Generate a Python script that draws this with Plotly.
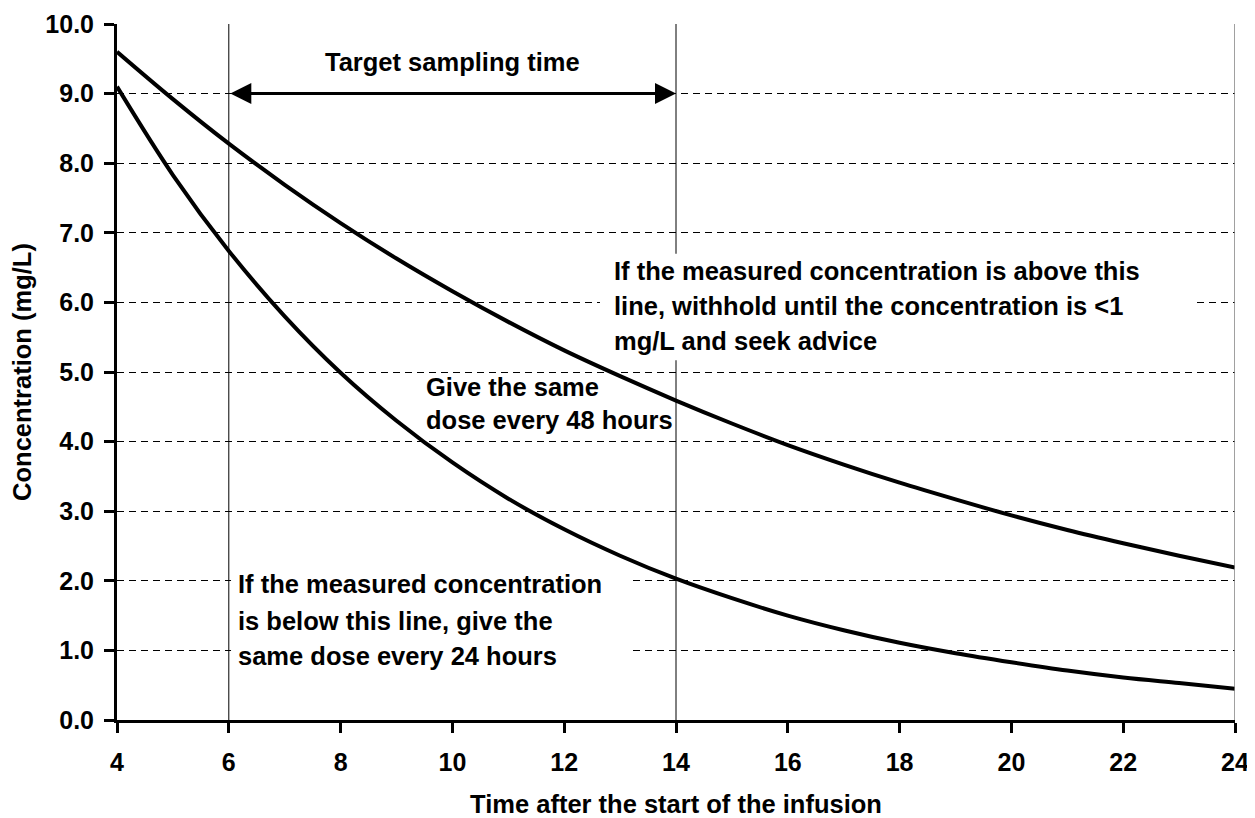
import plotly.graph_objects as go

# ---- data ----
hours = [4, 5, 6, 7, 8, 9, 10, 11, 12, 13, 14, 15, 16, 17, 18, 19, 20, 21, 22, 23, 24]
upper_line = [9.60, 8.92, 8.28, 7.69, 7.14, 6.63, 6.16, 5.72, 5.31, 4.94, 4.59,
              4.26, 3.95, 3.67, 3.41, 3.17, 2.94, 2.73, 2.54, 2.36, 2.19]
lower_line = [9.10, 7.83, 6.74, 5.80, 4.99, 4.30, 3.70, 3.18, 2.74, 2.36, 2.03,
              1.75, 1.50, 1.29, 1.11, 0.96, 0.83, 0.71, 0.61, 0.53, 0.45]
window_start = 6
window_end = 14
x_ticks = [4, 6, 8, 10, 12, 14, 16, 18, 20, 22, 24]
y_ticks = [0, 1, 2, 3, 4, 5, 6, 7, 8, 9, 10]

FONT = "Liberation Sans, Arial, sans-serif"
TXT = 25.5
TICK = 25

fig = go.Figure()
for ys in (upper_line, lower_line):
    fig.add_trace(go.Scatter(x=hours, y=ys, mode="lines",
                             line=dict(color="black", width=4, shape="spline"),
                             showlegend=False, hoverinfo="skip"))

shapes = []
for xv in (window_start, window_end):
    shapes.append(dict(type="line", xref="x", yref="y", x0=xv, x1=xv, y0=0, y1=10,
                       line=dict(color="black", width=1), layer="above"))
shapes.append(dict(type="line", xref="x", yref="y", x0=24, x1=24, y0=0, y1=10,
                   line=dict(color="#808080", width=1.5), layer="above"))
# white backgrounds of the text boxes
shapes.append(dict(type="rect", xref="x", yref="y", x0=12.64, x1=23.25, y0=5.17, y1=6.7,
                   fillcolor="white", line=dict(width=0), layer="above"))
shapes.append(dict(type="rect", xref="x", yref="y", x0=6.04, x1=13.2, y0=0.69, y1=2.2,
                   fillcolor="white", line=dict(width=0), layer="above"))

ann = []
# double-headed arrow for target sampling window
ann.append(dict(x=window_end, y=9, ax=window_start, ay=9, xref="x", yref="y",
                axref="x", ayref="y", text="", showarrow=True, arrowhead=2,
                arrowside="end+start", arrowsize=1.4, arrowwidth=3, arrowcolor="black"))
ann.append(dict(x=10, y=9.45, xref="x", yref="y", text="<b>Target sampling time</b>",
                showarrow=False, font=dict(family=FONT, size=TXT, color="black")))

def block(lines, x, ys, size=TXT):
    for t, yv in zip(lines, ys):
        ann.append(dict(x=x, y=yv, xref="x", yref="y", text="<b>%s</b>" % t,
                        showarrow=False, xanchor="left", yanchor="middle",
                        font=dict(family=FONT, size=size, color="black")))

block(["If the measured concentration is above this",
       "line, withhold until the concentration is &lt;1",
       "mg/L and seek advice"], 12.85, [6.45, 5.95, 5.45])
block(["Give the same", "dose every 48 hours"], 9.5, [4.79, 4.31])
block(["If the measured concentration",
       "is below this line, give the",
       "same dose every 24 hours"], 6.13, [1.95, 1.42, 0.92])

# the page adds an 8 px body margin, so margins are set to place the plot area
fig.update_layout(
    width=1247, height=810,
    margin=dict(l=109, r=20, t=16, b=98, autoexpand=False),
    paper_bgcolor="white", plot_bgcolor="white",
    font=dict(family=FONT, color="black"),
    shapes=shapes, annotations=ann, showlegend=False,
)
fig.update_xaxes(
    range=[4, 24], tickvals=x_ticks, ticktext=[str(v) for v in x_ticks],
    showgrid=False, zeroline=False, automargin=False,
    showline=True, linecolor="black", linewidth=3,
    ticks="outside", ticklen=10, tickwidth=3, tickcolor="black",
    ticklabelstandoff=8, ticklabeloverflow="allow",
    tickfont=dict(family=FONT, size=TICK, color="black", weight="bold"),
    title=dict(text="<b>Time after the start of the infusion</b>", standoff=26,
               font=dict(family=FONT, size=TXT, color="black")),
)
fig.update_yaxes(
    range=[0, 10], tickvals=y_ticks, ticktext=["%.1f" % v for v in y_ticks],
    showgrid=True, gridcolor="black", gridwidth=1, griddash="7px,5px",
    zeroline=False, automargin=False,
    showline=True, linecolor="black", linewidth=3,
    ticks="outside", ticklen=10, tickwidth=3, tickcolor="black",
    ticklabelstandoff=5, ticklabeloverflow="allow",
    tickfont=dict(family=FONT, size=TICK, color="black", weight="bold"),
    title=dict(text="<b>Concentration (mg/L)</b>", standoff=16,
               font=dict(family=FONT, size=TXT, color="black")),
)

fig.write_html("out.html")
